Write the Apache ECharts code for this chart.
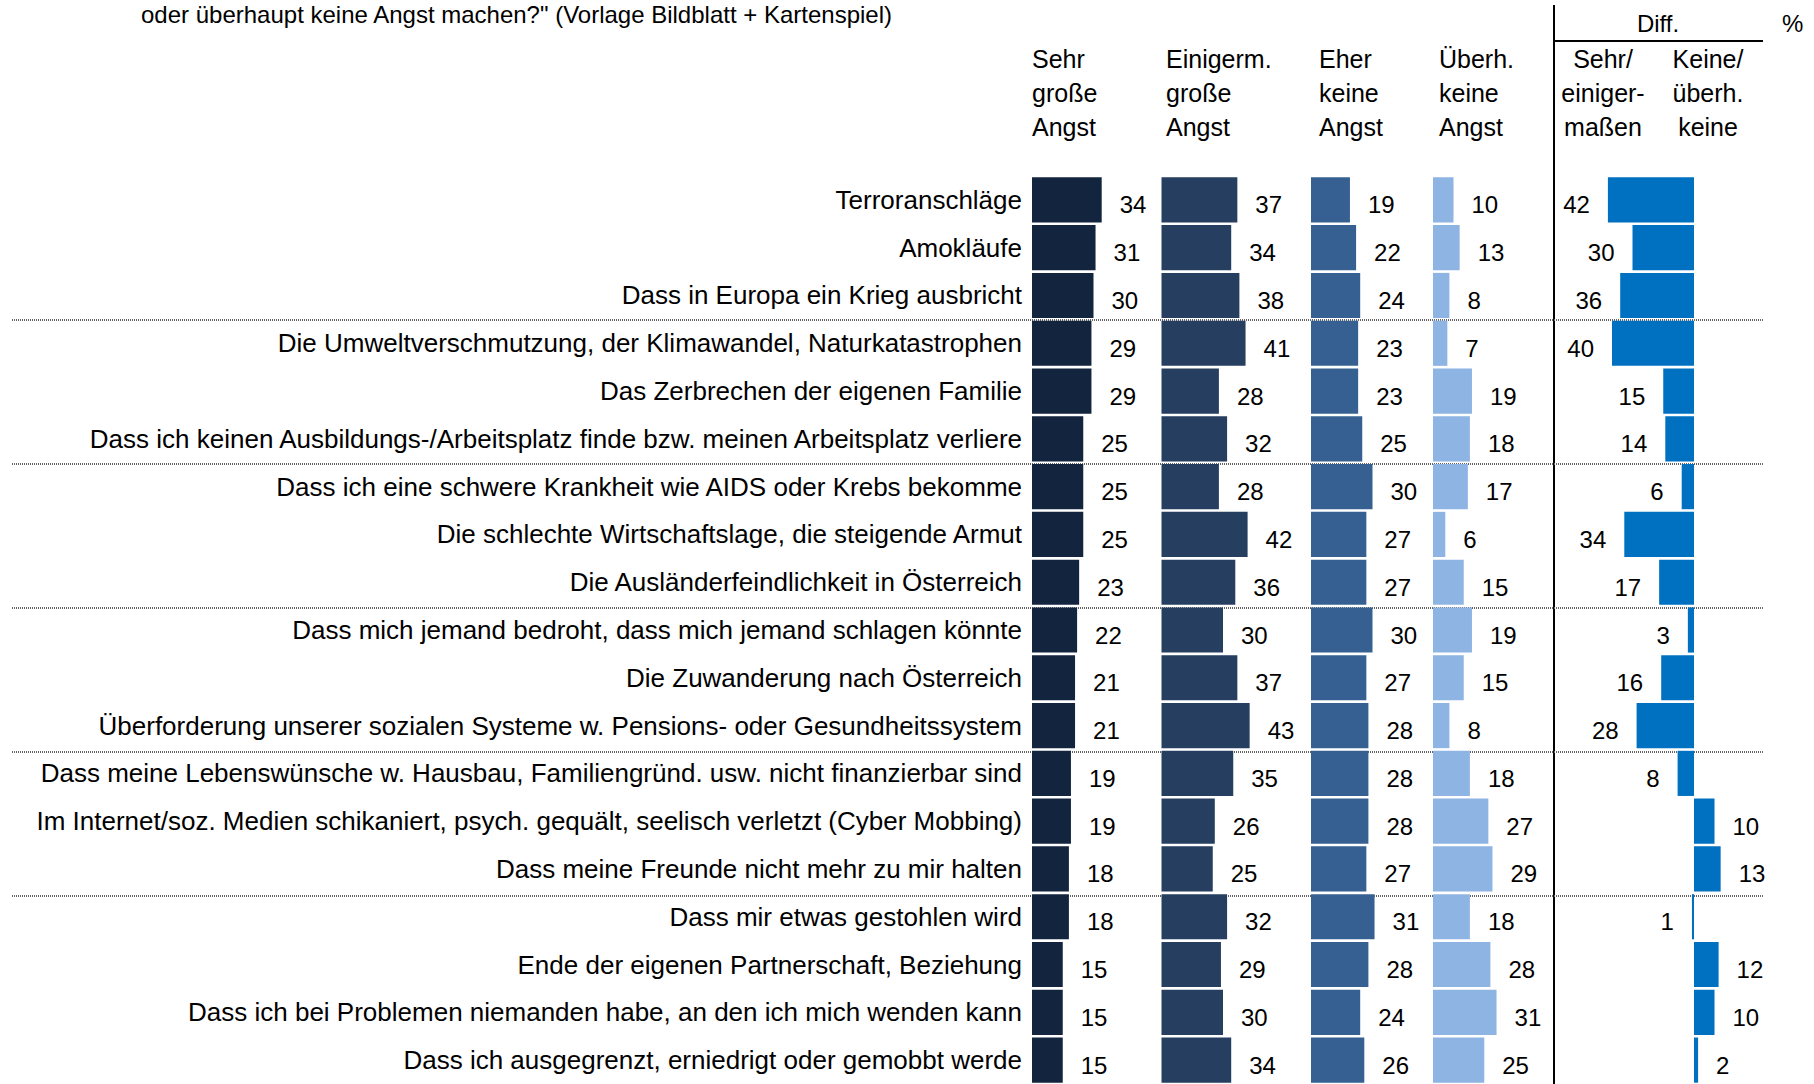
<!DOCTYPE html>
<html>
<head>
<meta charset="utf-8">
<title>Ängste</title>
<script src="https://cdn.jsdelivr.net/npm/echarts@6/dist/echarts.min.js"></script>
<style>
  html, body { margin: 0; padding: 0; background: #fff; }
  #chart { width: 1814px; height: 1084px; }
</style>
</head>
<body>
<div id="chart"></div>
<script>
// Kategorien (von oben nach unten)
const categories = [
  'Terroranschläge',
  'Amokläufe',
  'Dass in Europa ein Krieg ausbricht',
  'Die Umweltverschmutzung, der Klimawandel, Naturkatastrophen',
  'Das Zerbrechen der eigenen Familie',
  'Dass ich keinen Ausbildungs-/Arbeitsplatz finde bzw. meinen Arbeitsplatz verliere',
  'Dass ich eine schwere Krankheit wie AIDS oder Krebs bekomme',
  'Die schlechte Wirtschaftslage, die steigende Armut',
  'Die Ausländerfeindlichkeit in Österreich',
  'Dass mich jemand bedroht, dass mich jemand schlagen könnte',
  'Die Zuwanderung nach Österreich',
  'Überforderung unserer sozialen Systeme w. Pensions- oder Gesundheitssystem',
  'Dass meine Lebenswünsche w. Hausbau, Familiengründ. usw. nicht finanzierbar sind',
  'Im Internet/soz. Medien schikaniert, psych. gequält, seelisch verletzt (Cyber Mobbing)',
  'Dass meine Freunde nicht mehr zu mir halten',
  'Dass mir etwas gestohlen wird',
  'Ende der eigenen Partnerschaft, Beziehung',
  'Dass ich bei Problemen niemanden habe, an den ich mich wenden kann',
  'Dass ich ausgegrenzt, erniedrigt oder gemobbt werde'
]

const sehrGross    = [34, 31, 30, 29, 29, 25, 25, 25, 23, 22, 21, 21, 19, 19, 18, 18, 15, 15, 15]
const einigermGross = [37, 34, 38, 41, 28, 32, 28, 42, 36, 30, 37, 43, 35, 26, 25, 32, 29, 30, 34]
const eherKeine    = [19, 22, 24, 23, 23, 25, 30, 27, 27, 30, 27, 28, 28, 28, 27, 31, 28, 24, 26]
const ueberhKeine  = [10, 13, 8, 7, 19, 18, 17, 6, 15, 19, 15, 8, 18, 27, 29, 18, 28, 31, 25]
// Diff.: positiv = Sehr/einigermaßen überwiegt (nach links), negativ = Keine/überh. keine (nach rechts)
const diffValues   = [42, 30, 36, 40, 15, 14, 6, 34, 17, 3, 16, 28, 8, -10, -13, 1, -12, -10, -2]

// gepunktete Trennlinien nach jeder 3. Zeile (Zeilennummern)
const SEP_FIRST = 3
const SEP_LAST = 15
const SEP_STEP = 3

const columnTitles = ['Sehr\ngroße\nAngst', 'Einigerm.\ngroße\nAngst', 'Eher\nkeine\nAngst', 'Überh.\nkeine\nAngst']
const diffTitles = ['Sehr/\neiniger-\nmaßen', 'Keine/\nüberh.\nkeine']

const FONT = '"Liberation Sans", Arial, Helvetica, sans-serif'
const TOP = 176
const ROW = 48
const UNIT = 2.05          // px pro Prozentpunkt
const MAXV = 50
const colLeft = [1032, 1161.5, 1311, 1433]
const colColors = ['#13243F', '#263E5F', '#376092', '#8EB4E3']
const diffZero = 1694

let chart = echarts.init(document.getElementById('chart'), null, { renderer: 'svg' })

let grids = []
let xAxes = []
let yAxes = []
let series = []

// Grid 0: nur für die gepunkteten Trennlinien über die ganze Breite
grids.push({ left: 12, top: TOP + SEP_FIRST * ROW, width: 1751, height: (SEP_LAST - SEP_FIRST) * ROW })
xAxes.push({ gridIndex: 0, type: 'value', min: 0, max: 1, show: false })
yAxes.push({
  gridIndex: 0, type: 'value', inverse: true,
  min: SEP_FIRST, max: SEP_LAST, interval: SEP_STEP,
  axisLine: { show: false }, axisTick: { show: false }, axisLabel: { show: false },
  splitLine: {
    show: true,
    lineStyle: { color: '#666', width: 2, type: [1, 1] }
  }
})

const colData = [sehrGross, einigermGross, eherKeine, ueberhKeine]
colData.forEach((vals, k) => {
  let g = k + 1
  grids.push({ left: colLeft[k], top: TOP, width: UNIT * MAXV, height: ROW * categories.length })
  xAxes.push({ gridIndex: g, type: 'value', min: 0, max: MAXV, show: false })
  yAxes.push({
    gridIndex: g, type: 'category', data: categories, inverse: true,
    axisLine: { show: false }, axisTick: { show: false },
    splitLine: { show: false },
    axisLabel: {
      show: k === 0,
      margin: 10,
      color: '#000',
      fontSize: 26,
      fontFamily: FONT
    }
  })
  series.push({
    type: 'bar',
    xAxisIndex: g,
    yAxisIndex: g,
    barCategoryGap: '5.5%',
    itemStyle: { color: colColors[k] },
    label: {
      show: true,
      position: 'right',
      distance: 18,
      offset: [0, 5],
      color: '#000',
      fontSize: 24,
      fontFamily: FONT
    },
    data: vals
  })
})

// Diff.-Spalte
grids.push({ left: diffZero - UNIT * MAXV, top: TOP, width: UNIT * MAXV * 2, height: ROW * categories.length })
xAxes.push({ gridIndex: 5, type: 'value', min: -MAXV, max: MAXV, inverse: true, show: false })
yAxes.push({
  gridIndex: 5, type: 'category', data: categories, inverse: true, show: false
})
series.push({
  type: 'bar',
  xAxisIndex: 5,
  yAxisIndex: 5,
  barCategoryGap: '5.5%',
  itemStyle: { color: '#0070C0' },
  label: {
    show: true,
    distance: 18,
    offset: [0, 5],
    color: '#000',
    fontSize: 24,
    fontFamily: FONT,
    formatter: p => Math.abs(p.value)
  },
  data: diffValues.map(v => ({
    value: v,
    label: { position: v >= 0 ? 'left' : 'right' }
  }))
})

// Kopfzeilen, Linien
let graphics = [
  {
    type: 'text', x: 141, y: 14,
    style: {
      text: 'oder überhaupt keine Angst machen?" (Vorlage Bildblatt + Kartenspiel)',
      fontSize: 24, fontFamily: FONT, fill: '#000', verticalAlign: 'middle'
    }
  },
  {
    type: 'text', x: 1658, y: 23,
    style: { text: 'Diff.', fontSize: 24, fontFamily: FONT, fill: '#000', align: 'center', verticalAlign: 'middle' }
  },
  {
    type: 'text', x: 1782, y: 23,
    style: { text: '%', fontSize: 24, fontFamily: FONT, fill: '#000', verticalAlign: 'middle' }
  },
  {
    type: 'line', shape: { x1: 1554, y1: 5, x2: 1554, y2: 1084 },
    style: { stroke: '#000', lineWidth: 2 }
  },
  {
    type: 'line', shape: { x1: 1554, y1: 41, x2: 1763, y2: 41 },
    style: { stroke: '#000', lineWidth: 2 }
  }
]
const headX = [1032, 1166, 1319, 1439]
columnTitles.forEach((t, k) => {
  graphics.push({
    type: 'text', x: headX[k], y: 42,
    style: { text: t, fontSize: 25, lineHeight: 34, fontFamily: FONT, fill: '#000', verticalAlign: 'top' }
  })
})
const diffHeadX = [1603, 1708]
diffTitles.forEach((t, k) => {
  graphics.push({
    type: 'text', x: diffHeadX[k], y: 42,
    style: { text: t, fontSize: 25, lineHeight: 34, fontFamily: FONT, fill: '#000', align: 'center', verticalAlign: 'top' }
  })
})

chart.setOption({
  animation: false,
  backgroundColor: '#fff',
  grid: grids,
  xAxis: xAxes,
  yAxis: yAxes,
  series: series,
  graphic: graphics
})
</script>
</body>
</html>
